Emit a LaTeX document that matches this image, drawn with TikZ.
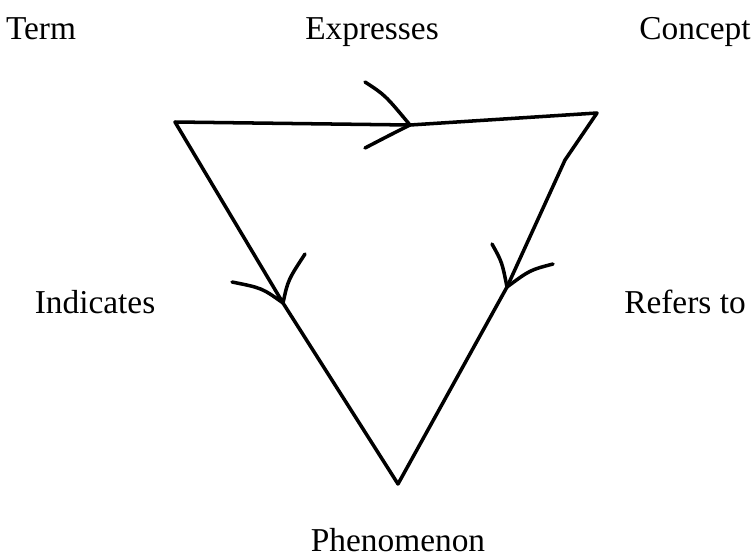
\documentclass[tikz,border=0pt]{standalone}
\usepackage{fontspec}
\setmainfont{Liberation Serif}
\usetikzlibrary{positioning}

\begin{document}
\begin{tikzpicture}[x=0.02cm, y=-0.02cm,
edge/.style={line width=2pt, line cap=round, line join=round},
lbl/.style={font=\fontsize{19}{22}\selectfont, inner sep=0pt, anchor=base},
]
\useasboundingbox (0,0) rectangle (753,558);
% corners of the triangle
\coordinate (T) at (175,122);
\coordinate (C) at (597,113);
\coordinate (P) at (398,484);
% arrow points on the sides
\coordinate (ex) at (410,125);
\coordinate (in) at (283,303);
\coordinate (rf) at (507,287);
% labels
\node[lbl] (term) at (41,39) {Term};
\node[lbl] (expr) at (372,39) {Expresses};
\node[lbl] (conc) at (695,39) {Concept};
\node[lbl] (indi) at (95,313) {Indicates};
\node[lbl] (refe) at (685,313) {Refers to};
\node[lbl] (phen) at (398,551) {Phenomenon};
% sides
\draw[edge] (T) -- (ex) -- (C);
\draw[edge] (T) -- (in) -- (P);
\draw[edge] (C) -- (565,160) -- (rf) -- (P);
% arrow heads, drawn by hand
\draw[edge] (365,82) .. controls (385,95) .. (ex) .. controls (390,135) .. (365,148);
\draw[edge] (232,282) .. controls (262,288) .. (in) .. controls (288,280) .. (305,254);
\draw[edge] (492,244) .. controls (502,262) .. (rf) .. controls (530,270) .. (553,264);
\end{tikzpicture}
\end{document}
